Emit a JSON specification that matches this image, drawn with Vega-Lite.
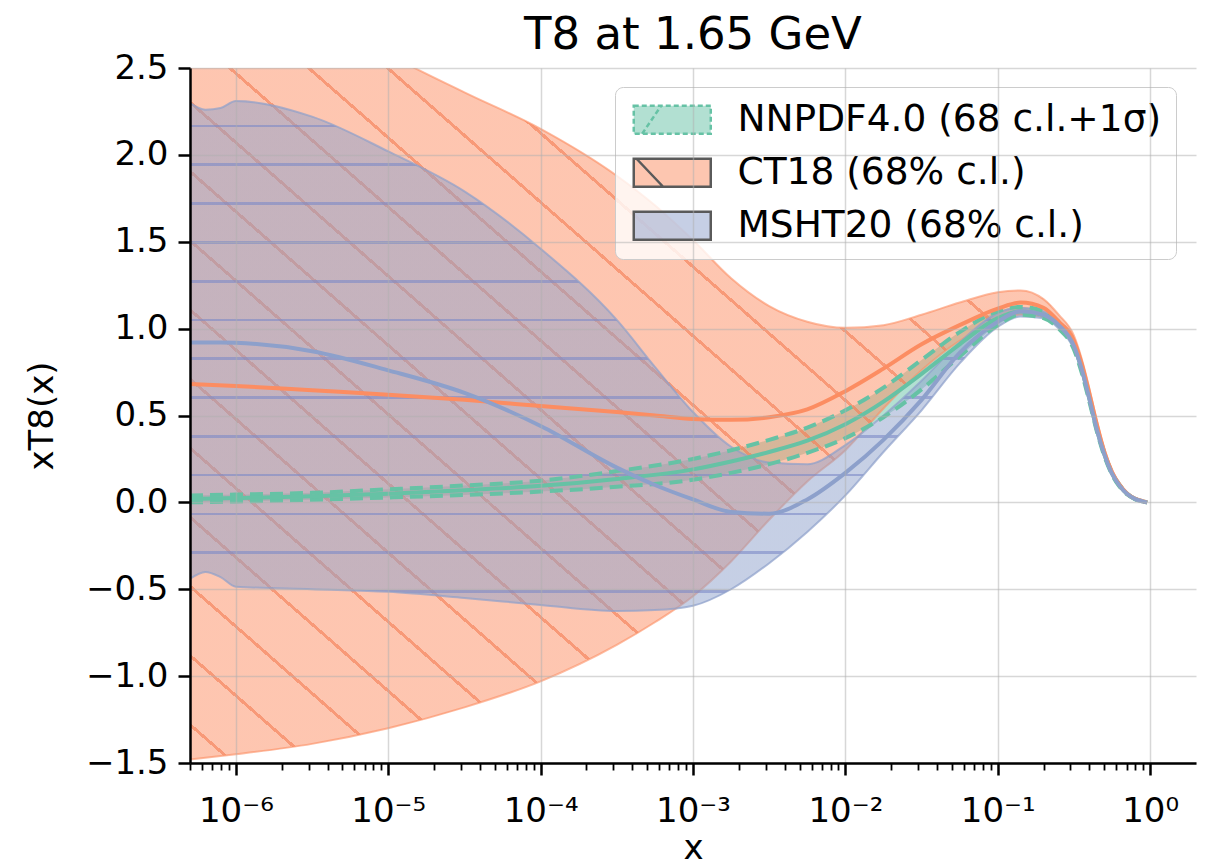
{
  "$schema": "https://vega.github.io/schema/vega-lite/v6.json",
  "width": 1006,
  "height": 695,
  "autosize": {"type": "none"},
  "padding": {"left": 190, "top": 68, "right": 14, "bottom": 103},
  "background": "white",
  "title": {"text": "T8 at 1.65 GeV", "fontSize": 45, "fontWeight": "normal", "font": "DejaVu Sans", "color": "black", "frame": "group", "offset": -7},
  "config": {
    "view": {"stroke": null},
    "font": "DejaVu Sans",
    "axis": {"labelFont": "DejaVu Sans", "titleFont": "DejaVu Sans", "labelColor": "black", "titleColor": "black", "titleFontWeight": "normal", "domainColor": "black", "tickColor": "black", "domainWidth": 2.5, "gridColor": "#b0b0b0", "gridWidth": 1.5, "zindex": 2, "labelOverlap": false, "labelBound": false, "labelFlush": false}
  },
  "datasets": {
    "pdf": [
      {"pdf": "NNPDF4.0 (68 c.l.+1σ)", "x": 5e-7, "c": 0.02, "lo": 0.0, "hi": 0.04},
      {"pdf": "NNPDF4.0 (68 c.l.+1σ)", "x": 1e-6, "c": 0.025, "lo": 0.005, "hi": 0.045},
      {"pdf": "NNPDF4.0 (68 c.l.+1σ)", "x": 3.162e-6, "c": 0.035, "lo": 0.015, "hi": 0.055},
      {"pdf": "NNPDF4.0 (68 c.l.+1σ)", "x": 1e-5, "c": 0.05, "lo": 0.028, "hi": 0.075},
      {"pdf": "NNPDF4.0 (68 c.l.+1σ)", "x": 3.162e-5, "c": 0.07, "lo": 0.043, "hi": 0.097},
      {"pdf": "NNPDF4.0 (68 c.l.+1σ)", "x": 1e-4, "c": 0.095, "lo": 0.062, "hi": 0.125},
      {"pdf": "NNPDF4.0 (68 c.l.+1σ)", "x": 3.162e-4, "c": 0.135, "lo": 0.09, "hi": 0.18},
      {"pdf": "NNPDF4.0 (68 c.l.+1σ)", "x": 1e-3, "c": 0.19, "lo": 0.13, "hi": 0.25},
      {"pdf": "NNPDF4.0 (68 c.l.+1σ)", "x": 1.778e-3, "c": 0.235, "lo": 0.17, "hi": 0.30},
      {"pdf": "NNPDF4.0 (68 c.l.+1σ)", "x": 3.162e-3, "c": 0.29, "lo": 0.22, "hi": 0.36},
      {"pdf": "NNPDF4.0 (68 c.l.+1σ)", "x": 5.623e-3, "c": 0.355, "lo": 0.285, "hi": 0.43},
      {"pdf": "NNPDF4.0 (68 c.l.+1σ)", "x": 0.01, "c": 0.45, "lo": 0.37, "hi": 0.53},
      {"pdf": "NNPDF4.0 (68 c.l.+1σ)", "x": 0.01778, "c": 0.58, "lo": 0.49, "hi": 0.66},
      {"pdf": "NNPDF4.0 (68 c.l.+1σ)", "x": 0.03162, "c": 0.74, "lo": 0.65, "hi": 0.82},
      {"pdf": "NNPDF4.0 (68 c.l.+1σ)", "x": 0.05623, "c": 0.91, "lo": 0.84, "hi": 0.98},
      {"pdf": "NNPDF4.0 (68 c.l.+1σ)", "x": 0.1, "c": 1.06, "lo": 1.02, "hi": 1.10},
      {"pdf": "NNPDF4.0 (68 c.l.+1σ)", "x": 0.1413, "c": 1.10, "lo": 1.08, "hi": 1.125},
      {"pdf": "NNPDF4.0 (68 c.l.+1σ)", "x": 0.1995, "c": 1.08, "lo": 1.06, "hi": 1.10},
      {"pdf": "NNPDF4.0 (68 c.l.+1σ)", "x": 0.2512, "c": 1.02, "lo": 1.0, "hi": 1.04},
      {"pdf": "NNPDF4.0 (68 c.l.+1σ)", "x": 0.3162, "c": 0.90, "lo": 0.88, "hi": 0.92},
      {"pdf": "NNPDF4.0 (68 c.l.+1σ)", "x": 0.3548, "c": 0.77, "lo": 0.75, "hi": 0.79},
      {"pdf": "NNPDF4.0 (68 c.l.+1σ)", "x": 0.3981, "c": 0.60, "lo": 0.585, "hi": 0.615},
      {"pdf": "NNPDF4.0 (68 c.l.+1σ)", "x": 0.4467, "c": 0.42, "lo": 0.41, "hi": 0.43},
      {"pdf": "NNPDF4.0 (68 c.l.+1σ)", "x": 0.5012, "c": 0.275, "lo": 0.265, "hi": 0.285},
      {"pdf": "NNPDF4.0 (68 c.l.+1σ)", "x": 0.5623, "c": 0.165, "lo": 0.16, "hi": 0.17},
      {"pdf": "NNPDF4.0 (68 c.l.+1σ)", "x": 0.631, "c": 0.095, "lo": 0.09, "hi": 0.10},
      {"pdf": "NNPDF4.0 (68 c.l.+1σ)", "x": 0.7079, "c": 0.048, "lo": 0.045, "hi": 0.05},
      {"pdf": "NNPDF4.0 (68 c.l.+1σ)", "x": 0.7943, "c": 0.02, "lo": 0.019, "hi": 0.021},
      {"pdf": "NNPDF4.0 (68 c.l.+1σ)", "x": 0.8913, "c": 0.006, "lo": 0.005, "hi": 0.007},
      {"pdf": "NNPDF4.0 (68 c.l.+1σ)", "x": 0.955, "c": 0.0, "lo": 0.0, "hi": 0.0},

      {"pdf": "CT18 (68% c.l.)", "x": 5e-7, "c": 0.682, "lo": -1.48, "hi": 3.35},
      {"pdf": "CT18 (68% c.l.)", "x": 1e-6, "c": 0.67, "lo": -1.45, "hi": 3.15},
      {"pdf": "CT18 (68% c.l.)", "x": 3.162e-6, "c": 0.645, "lo": -1.39, "hi": 2.85},
      {"pdf": "CT18 (68% c.l.)", "x": 1e-5, "c": 0.62, "lo": -1.30, "hi": 2.58},
      {"pdf": "CT18 (68% c.l.)", "x": 3.162e-5, "c": 0.59, "lo": -1.18, "hi": 2.36},
      {"pdf": "CT18 (68% c.l.)", "x": 1e-4, "c": 0.555, "lo": -1.03, "hi": 2.15},
      {"pdf": "CT18 (68% c.l.)", "x": 3.162e-4, "c": 0.52, "lo": -0.82, "hi": 1.88},
      {"pdf": "CT18 (68% c.l.)", "x": 5.623e-4, "c": 0.50, "lo": -0.69, "hi": 1.71},
      {"pdf": "CT18 (68% c.l.)", "x": 1e-3, "c": 0.48, "lo": -0.54, "hi": 1.51},
      {"pdf": "CT18 (68% c.l.)", "x": 1.778e-3, "c": 0.475, "lo": -0.34, "hi": 1.29},
      {"pdf": "CT18 (68% c.l.)", "x": 3.162e-3, "c": 0.49, "lo": -0.10, "hi": 1.13},
      {"pdf": "CT18 (68% c.l.)", "x": 5.623e-3, "c": 0.535, "lo": 0.12, "hi": 1.04},
      {"pdf": "CT18 (68% c.l.)", "x": 0.01, "c": 0.64, "lo": 0.30, "hi": 1.005},
      {"pdf": "CT18 (68% c.l.)", "x": 0.01778, "c": 0.77, "lo": 0.54, "hi": 1.02},
      {"pdf": "CT18 (68% c.l.)", "x": 0.03162, "c": 0.91, "lo": 0.76, "hi": 1.08},
      {"pdf": "CT18 (68% c.l.)", "x": 0.05623, "c": 1.02, "lo": 0.93, "hi": 1.15},
      {"pdf": "CT18 (68% c.l.)", "x": 0.1, "c": 1.115, "lo": 1.04, "hi": 1.21},
      {"pdf": "CT18 (68% c.l.)", "x": 0.1413, "c": 1.15, "lo": 1.08, "hi": 1.22},
      {"pdf": "CT18 (68% c.l.)", "x": 0.1995, "c": 1.12, "lo": 1.07, "hi": 1.17},
      {"pdf": "CT18 (68% c.l.)", "x": 0.2512, "c": 1.04, "lo": 1.01, "hi": 1.08},
      {"pdf": "CT18 (68% c.l.)", "x": 0.3162, "c": 0.93, "lo": 0.90, "hi": 0.96},
      {"pdf": "CT18 (68% c.l.)", "x": 0.3548, "c": 0.80, "lo": 0.77, "hi": 0.83},
      {"pdf": "CT18 (68% c.l.)", "x": 0.3981, "c": 0.63, "lo": 0.60, "hi": 0.66},
      {"pdf": "CT18 (68% c.l.)", "x": 0.4467, "c": 0.45, "lo": 0.43, "hi": 0.47},
      {"pdf": "CT18 (68% c.l.)", "x": 0.5012, "c": 0.29, "lo": 0.275, "hi": 0.305},
      {"pdf": "CT18 (68% c.l.)", "x": 0.5623, "c": 0.175, "lo": 0.165, "hi": 0.185},
      {"pdf": "CT18 (68% c.l.)", "x": 0.631, "c": 0.10, "lo": 0.095, "hi": 0.107},
      {"pdf": "CT18 (68% c.l.)", "x": 0.7079, "c": 0.05, "lo": 0.047, "hi": 0.054},
      {"pdf": "CT18 (68% c.l.)", "x": 0.7943, "c": 0.022, "lo": 0.02, "hi": 0.024},
      {"pdf": "CT18 (68% c.l.)", "x": 0.8913, "c": 0.007, "lo": 0.006, "hi": 0.008},
      {"pdf": "CT18 (68% c.l.)", "x": 0.955, "c": 0.0, "lo": 0.0, "hi": 0.0},

      {"pdf": "MSHT20 (68% c.l.)", "x": 5e-7, "c": 0.92, "lo": -0.44, "hi": 2.30},
      {"pdf": "MSHT20 (68% c.l.)", "x": 6.31e-7, "c": 0.92, "lo": -0.40, "hi": 2.26},
      {"pdf": "MSHT20 (68% c.l.)", "x": 7.94e-7, "c": 0.92, "lo": -0.43, "hi": 2.27},
      {"pdf": "MSHT20 (68% c.l.)", "x": 1e-6, "c": 0.918, "lo": -0.485, "hi": 2.31},
      {"pdf": "MSHT20 (68% c.l.)", "x": 3.162e-6, "c": 0.87, "lo": -0.50, "hi": 2.22},
      {"pdf": "MSHT20 (68% c.l.)", "x": 1e-5, "c": 0.76, "lo": -0.515, "hi": 2.02},
      {"pdf": "MSHT20 (68% c.l.)", "x": 3.162e-5, "c": 0.63, "lo": -0.55, "hi": 1.79},
      {"pdf": "MSHT20 (68% c.l.)", "x": 1e-4, "c": 0.44, "lo": -0.59, "hi": 1.46},
      {"pdf": "MSHT20 (68% c.l.)", "x": 3.162e-4, "c": 0.20, "lo": -0.625, "hi": 1.05},
      {"pdf": "MSHT20 (68% c.l.)", "x": 5.623e-4, "c": 0.10, "lo": -0.62, "hi": 0.78},
      {"pdf": "MSHT20 (68% c.l.)", "x": 1e-3, "c": 0.017, "lo": -0.595, "hi": 0.52},
      {"pdf": "MSHT20 (68% c.l.)", "x": 1.778e-3, "c": -0.055, "lo": -0.50, "hi": 0.32},
      {"pdf": "MSHT20 (68% c.l.)", "x": 3.162e-3, "c": -0.065, "lo": -0.35, "hi": 0.23},
      {"pdf": "MSHT20 (68% c.l.)", "x": 5.623e-3, "c": 0.017, "lo": -0.17, "hi": 0.22},
      {"pdf": "MSHT20 (68% c.l.)", "x": 0.01, "c": 0.17, "lo": 0.04, "hi": 0.33},
      {"pdf": "MSHT20 (68% c.l.)", "x": 0.01778, "c": 0.36, "lo": 0.29, "hi": 0.50},
      {"pdf": "MSHT20 (68% c.l.)", "x": 0.03162, "c": 0.59, "lo": 0.53, "hi": 0.70},
      {"pdf": "MSHT20 (68% c.l.)", "x": 0.05623, "c": 0.86, "lo": 0.80, "hi": 0.92},
      {"pdf": "MSHT20 (68% c.l.)", "x": 0.1, "c": 1.04, "lo": 1.01, "hi": 1.09},
      {"pdf": "MSHT20 (68% c.l.)", "x": 0.1413, "c": 1.10, "lo": 1.07, "hi": 1.12},
      {"pdf": "MSHT20 (68% c.l.)", "x": 0.1995, "c": 1.08, "lo": 1.06, "hi": 1.10},
      {"pdf": "MSHT20 (68% c.l.)", "x": 0.2512, "c": 1.02, "lo": 1.0, "hi": 1.04},
      {"pdf": "MSHT20 (68% c.l.)", "x": 0.3162, "c": 0.90, "lo": 0.88, "hi": 0.92},
      {"pdf": "MSHT20 (68% c.l.)", "x": 0.3548, "c": 0.77, "lo": 0.75, "hi": 0.79},
      {"pdf": "MSHT20 (68% c.l.)", "x": 0.3981, "c": 0.60, "lo": 0.585, "hi": 0.615},
      {"pdf": "MSHT20 (68% c.l.)", "x": 0.4467, "c": 0.42, "lo": 0.41, "hi": 0.43},
      {"pdf": "MSHT20 (68% c.l.)", "x": 0.5012, "c": 0.275, "lo": 0.265, "hi": 0.285},
      {"pdf": "MSHT20 (68% c.l.)", "x": 0.5623, "c": 0.165, "lo": 0.16, "hi": 0.17},
      {"pdf": "MSHT20 (68% c.l.)", "x": 0.631, "c": 0.095, "lo": 0.09, "hi": 0.10},
      {"pdf": "MSHT20 (68% c.l.)", "x": 0.7079, "c": 0.048, "lo": 0.045, "hi": 0.05},
      {"pdf": "MSHT20 (68% c.l.)", "x": 0.7943, "c": 0.02, "lo": 0.019, "hi": 0.021},
      {"pdf": "MSHT20 (68% c.l.)", "x": 0.8913, "c": 0.006, "lo": 0.005, "hi": 0.007},
      {"pdf": "MSHT20 (68% c.l.)", "x": 0.955, "c": 0.0, "lo": 0.0, "hi": 0.0}
    ]
  },
  "data": {"name": "pdf"},
  "encoding": {
    "x": {"field": "x", "type": "quantitative",
      "scale": {"type": "log", "domain": [5e-7, 2], "nice": false},
      "axis": {
        "title": "x", "titleFontSize": 34, "titlePadding": 3, "zindex": 2,
        "values": [5e-7, 6e-7, 7e-7, 8e-7, 9e-7, 1e-6, 2e-6, 3e-6, 4e-6, 5e-6, 6e-6, 7e-6, 8e-6, 9e-6, 1e-5, 2e-5, 3e-5, 4e-5, 5e-5, 6e-5, 7e-5, 8e-5, 9e-5, 1e-4, 2e-4, 3e-4, 4e-4, 5e-4, 6e-4, 7e-4, 8e-4, 9e-4, 1e-3, 2e-3, 3e-3, 4e-3, 5e-3, 6e-3, 7e-3, 8e-3, 9e-3, 0.01, 0.02, 0.03, 0.04, 0.05, 0.06, 0.07, 0.08, 0.09, 0.1, 0.2, 0.3, 0.4, 0.5, 0.6, 0.7, 0.8, 0.9, 1],
        "labelExpr": "abs(log(datum.value)/LN10 - round(log(datum.value)/LN10)) < 0.001 ? ['10⁻⁶','10⁻⁵','10⁻⁴','10⁻³','10⁻²','10⁻¹','10⁰'][round(log(datum.value)/LN10)+6] : ''",
        "labelFontSize": 34, "labelPadding": 19,
        "tickSize": {"condition": {"test": "abs(log(datum.value)/LN10 - round(log(datum.value)/LN10)) < 0.001", "value": 12}, "value": 7},
        "tickWidth": {"condition": {"test": "abs(log(datum.value)/LN10 - round(log(datum.value)/LN10)) < 0.001", "value": 2.5}, "value": 1.8},
        "gridOpacity": {"condition": {"test": "abs(log(datum.value)/LN10 - round(log(datum.value)/LN10)) < 0.001", "value": 0.5}, "value": 0}
      }
    }
  },
  "layer": [
    {
      "transform": [{"filter": "datum.pdf === 'NNPDF4.0 (68 c.l.+1σ)'"}],
      "mark": {"type": "area", "interpolate": "monotone", "fillOpacity": 0.5},
      "encoding": {
        "y": {"field": "lo", "type": "quantitative",
          "scale": {"domain": [-1.5, 2.5], "nice": false, "zero": false},
          "axis": {"title": "xT8(x)", "titleFontSize": 34, "titlePadding": 26, "zindex": 2, "values": [-1.5, -1, -0.5, 0, 0.5, 1, 1.5, 2, 2.5], "format": ".1f", "labelFontSize": 34, "labelPadding": 10, "tickSize": 12, "tickWidth": 2.5, "gridOpacity": 0.5}
        },
        "y2": {"field": "hi"},
        "fill": {"field": "pdf", "type": "nominal",
          "scale": {"domain": ["NNPDF4.0 (68 c.l.+1σ)", "CT18 (68% c.l.)", "MSHT20 (68% c.l.)"], "range": ["#66c2a5", "#fc8d62", "#8da0cb"]},
          "legend": {
            "title": null, "orient": "none", "legendX": 425, "legendY": 19,
            "symbolType": "M-1,-1H4.5V1H-1Z", "symbolSize": 784,
            "symbolStrokeColor": "#5a5a5a", "symbolStrokeWidth": 2.5,
            "labelFont": "DejaVu Sans", "labelFontSize": 37.5, "labelColor": "black", "labelLimit": 0,
            "labelOffset": 71, "rowPadding": 14, "padding": 14,
            "fillColor": "rgba(255,255,255,0.8)", "strokeColor": "#cccccc", "cornerRadius": 8,
            "encode": {"symbols": {"update": {
              "fillOpacity": {"value": 0.5},
              "stroke": {"signal": "datum.value === 'NNPDF4.0 (68 c.l.+1σ)' ? '#66c2a5' : '#5a5a5a'"},
              "strokeDash": {"signal": "datum.value === 'NNPDF4.0 (68 c.l.+1σ)' ? [5, 3] : []"},
              "shape": {"signal": "datum.value === 'CT18 (68% c.l.)' ? 'M-1,-1H4.5V1H-1Z M-0.8,-1L1.1,1' : datum.value === 'NNPDF4.0 (68 c.l.+1σ)' ? 'M-1,-1H4.5V1H-1Z M-0.4,1L0.96,-1' : 'M-1,-1H4.5V1H-1Z'"}
            }}}
          }
        }
      }
    },
    {
      "transform": [{"filter": "datum.pdf === 'CT18 (68% c.l.)'"}],
      "mark": {"type": "area", "interpolate": "monotone", "clip": true, "stroke": "#fc8d62", "strokeOpacity": 0.6, "strokeWidth": 2,
        "fill": {"gradient": "linear", "x1": 1, "y1": 0, "x2": 0, "y2": 1, "stops": [
          {"offset": 0, "color": "rgba(252,141,98,0.5)"},
          {"offset": 0.0304, "color": "rgba(252,141,98,0.5)"}, {"offset": 0.0304, "color": "rgba(246,128,86,0.8)"}, {"offset": 0.0328, "color": "rgba(246,128,86,0.8)"}, {"offset": 0.0328, "color": "rgba(252,141,98,0.5)"},
          {"offset": 0.0716, "color": "rgba(252,141,98,0.5)"}, {"offset": 0.0716, "color": "rgba(246,128,86,0.8)"}, {"offset": 0.0740, "color": "rgba(246,128,86,0.8)"}, {"offset": 0.0740, "color": "rgba(252,141,98,0.5)"},
          {"offset": 0.1128, "color": "rgba(252,141,98,0.5)"}, {"offset": 0.1128, "color": "rgba(246,128,86,0.8)"}, {"offset": 0.1152, "color": "rgba(246,128,86,0.8)"}, {"offset": 0.1152, "color": "rgba(252,141,98,0.5)"},
          {"offset": 0.1540, "color": "rgba(252,141,98,0.5)"}, {"offset": 0.1540, "color": "rgba(246,128,86,0.8)"}, {"offset": 0.1564, "color": "rgba(246,128,86,0.8)"}, {"offset": 0.1564, "color": "rgba(252,141,98,0.5)"},
          {"offset": 0.1952, "color": "rgba(252,141,98,0.5)"}, {"offset": 0.1952, "color": "rgba(246,128,86,0.8)"}, {"offset": 0.1976, "color": "rgba(246,128,86,0.8)"}, {"offset": 0.1976, "color": "rgba(252,141,98,0.5)"},
          {"offset": 0.2364, "color": "rgba(252,141,98,0.5)"}, {"offset": 0.2364, "color": "rgba(246,128,86,0.8)"}, {"offset": 0.2388, "color": "rgba(246,128,86,0.8)"}, {"offset": 0.2388, "color": "rgba(252,141,98,0.5)"},
          {"offset": 0.2776, "color": "rgba(252,141,98,0.5)"}, {"offset": 0.2776, "color": "rgba(246,128,86,0.8)"}, {"offset": 0.2800, "color": "rgba(246,128,86,0.8)"}, {"offset": 0.2800, "color": "rgba(252,141,98,0.5)"},
          {"offset": 0.3188, "color": "rgba(252,141,98,0.5)"}, {"offset": 0.3188, "color": "rgba(246,128,86,0.8)"}, {"offset": 0.3212, "color": "rgba(246,128,86,0.8)"}, {"offset": 0.3212, "color": "rgba(252,141,98,0.5)"},
          {"offset": 0.3600, "color": "rgba(252,141,98,0.5)"}, {"offset": 0.3600, "color": "rgba(246,128,86,0.8)"}, {"offset": 0.3624, "color": "rgba(246,128,86,0.8)"}, {"offset": 0.3624, "color": "rgba(252,141,98,0.5)"},
          {"offset": 0.4012, "color": "rgba(252,141,98,0.5)"}, {"offset": 0.4012, "color": "rgba(246,128,86,0.8)"}, {"offset": 0.4036, "color": "rgba(246,128,86,0.8)"}, {"offset": 0.4036, "color": "rgba(252,141,98,0.5)"},
          {"offset": 0.4424, "color": "rgba(252,141,98,0.5)"}, {"offset": 0.4424, "color": "rgba(246,128,86,0.8)"}, {"offset": 0.4448, "color": "rgba(246,128,86,0.8)"}, {"offset": 0.4448, "color": "rgba(252,141,98,0.5)"},
          {"offset": 0.4836, "color": "rgba(252,141,98,0.5)"}, {"offset": 0.4836, "color": "rgba(246,128,86,0.8)"}, {"offset": 0.4860, "color": "rgba(246,128,86,0.8)"}, {"offset": 0.4860, "color": "rgba(252,141,98,0.5)"},
          {"offset": 0.5248, "color": "rgba(252,141,98,0.5)"}, {"offset": 0.5248, "color": "rgba(246,128,86,0.8)"}, {"offset": 0.5272, "color": "rgba(246,128,86,0.8)"}, {"offset": 0.5272, "color": "rgba(252,141,98,0.5)"},
          {"offset": 0.5660, "color": "rgba(252,141,98,0.5)"}, {"offset": 0.5660, "color": "rgba(246,128,86,0.8)"}, {"offset": 0.5684, "color": "rgba(246,128,86,0.8)"}, {"offset": 0.5684, "color": "rgba(252,141,98,0.5)"},
          {"offset": 0.6072, "color": "rgba(252,141,98,0.5)"}, {"offset": 0.6072, "color": "rgba(246,128,86,0.8)"}, {"offset": 0.6096, "color": "rgba(246,128,86,0.8)"}, {"offset": 0.6096, "color": "rgba(252,141,98,0.5)"},
          {"offset": 0.6484, "color": "rgba(252,141,98,0.5)"}, {"offset": 0.6484, "color": "rgba(246,128,86,0.8)"}, {"offset": 0.6508, "color": "rgba(246,128,86,0.8)"}, {"offset": 0.6508, "color": "rgba(252,141,98,0.5)"},
          {"offset": 0.6896, "color": "rgba(252,141,98,0.5)"}, {"offset": 0.6896, "color": "rgba(246,128,86,0.8)"}, {"offset": 0.6920, "color": "rgba(246,128,86,0.8)"}, {"offset": 0.6920, "color": "rgba(252,141,98,0.5)"},
          {"offset": 0.7308, "color": "rgba(252,141,98,0.5)"}, {"offset": 0.7308, "color": "rgba(246,128,86,0.8)"}, {"offset": 0.7332, "color": "rgba(246,128,86,0.8)"}, {"offset": 0.7332, "color": "rgba(252,141,98,0.5)"},
          {"offset": 0.7720, "color": "rgba(252,141,98,0.5)"}, {"offset": 0.7720, "color": "rgba(246,128,86,0.8)"}, {"offset": 0.7744, "color": "rgba(246,128,86,0.8)"}, {"offset": 0.7744, "color": "rgba(252,141,98,0.5)"},
          {"offset": 0.8132, "color": "rgba(252,141,98,0.5)"}, {"offset": 0.8132, "color": "rgba(246,128,86,0.8)"}, {"offset": 0.8156, "color": "rgba(246,128,86,0.8)"}, {"offset": 0.8156, "color": "rgba(252,141,98,0.5)"},
          {"offset": 0.8544, "color": "rgba(252,141,98,0.5)"}, {"offset": 0.8544, "color": "rgba(246,128,86,0.8)"}, {"offset": 0.8568, "color": "rgba(246,128,86,0.8)"}, {"offset": 0.8568, "color": "rgba(252,141,98,0.5)"},
          {"offset": 0.8956, "color": "rgba(252,141,98,0.5)"}, {"offset": 0.8956, "color": "rgba(246,128,86,0.8)"}, {"offset": 0.8980, "color": "rgba(246,128,86,0.8)"}, {"offset": 0.8980, "color": "rgba(252,141,98,0.5)"},
          {"offset": 0.9368, "color": "rgba(252,141,98,0.5)"}, {"offset": 0.9368, "color": "rgba(246,128,86,0.8)"}, {"offset": 0.9392, "color": "rgba(246,128,86,0.8)"}, {"offset": 0.9392, "color": "rgba(252,141,98,0.5)"},
          {"offset": 0.9780, "color": "rgba(252,141,98,0.5)"}, {"offset": 0.9780, "color": "rgba(246,128,86,0.8)"}, {"offset": 0.9804, "color": "rgba(246,128,86,0.8)"}, {"offset": 0.9804, "color": "rgba(252,141,98,0.5)"},
          {"offset": 1, "color": "rgba(252,141,98,0.5)"}
        ]}
      },
      "encoding": {"y": {"field": "lo", "type": "quantitative"}, "y2": {"field": "hi"}}
    },
    {
      "transform": [{"filter": "datum.pdf === 'MSHT20 (68% c.l.)'"}],
      "mark": {"type": "area", "interpolate": "monotone", "clip": true, "stroke": "#8da0cb", "strokeOpacity": 0.7, "strokeWidth": 2,
        "fill": {"gradient": "linear", "x1": 0, "y1": 0, "x2": 0, "y2": 1, "stops": [
          {"offset": 0, "color": "rgba(141,160,203,0.5)"},
          {"offset": 0.0464, "color": "rgba(141,160,203,0.5)"}, {"offset": 0.0464, "color": "rgba(128,143,200,0.8)"}, {"offset": 0.0516, "color": "rgba(128,143,200,0.8)"}, {"offset": 0.0516, "color": "rgba(141,160,203,0.5)"},
          {"offset": 0.1225, "color": "rgba(141,160,203,0.5)"}, {"offset": 0.1225, "color": "rgba(128,143,200,0.8)"}, {"offset": 0.1277, "color": "rgba(128,143,200,0.8)"}, {"offset": 0.1277, "color": "rgba(141,160,203,0.5)"},
          {"offset": 0.1986, "color": "rgba(141,160,203,0.5)"}, {"offset": 0.1986, "color": "rgba(128,143,200,0.8)"}, {"offset": 0.2038, "color": "rgba(128,143,200,0.8)"}, {"offset": 0.2038, "color": "rgba(141,160,203,0.5)"},
          {"offset": 0.2747, "color": "rgba(141,160,203,0.5)"}, {"offset": 0.2747, "color": "rgba(128,143,200,0.8)"}, {"offset": 0.2799, "color": "rgba(128,143,200,0.8)"}, {"offset": 0.2799, "color": "rgba(141,160,203,0.5)"},
          {"offset": 0.3507, "color": "rgba(141,160,203,0.5)"}, {"offset": 0.3507, "color": "rgba(128,143,200,0.8)"}, {"offset": 0.3559, "color": "rgba(128,143,200,0.8)"}, {"offset": 0.3559, "color": "rgba(141,160,203,0.5)"},
          {"offset": 0.4268, "color": "rgba(141,160,203,0.5)"}, {"offset": 0.4268, "color": "rgba(128,143,200,0.8)"}, {"offset": 0.4320, "color": "rgba(128,143,200,0.8)"}, {"offset": 0.4320, "color": "rgba(141,160,203,0.5)"},
          {"offset": 0.5029, "color": "rgba(141,160,203,0.5)"}, {"offset": 0.5029, "color": "rgba(128,143,200,0.8)"}, {"offset": 0.5081, "color": "rgba(128,143,200,0.8)"}, {"offset": 0.5081, "color": "rgba(141,160,203,0.5)"},
          {"offset": 0.5790, "color": "rgba(141,160,203,0.5)"}, {"offset": 0.5790, "color": "rgba(128,143,200,0.8)"}, {"offset": 0.5842, "color": "rgba(128,143,200,0.8)"}, {"offset": 0.5842, "color": "rgba(141,160,203,0.5)"},
          {"offset": 0.6550, "color": "rgba(141,160,203,0.5)"}, {"offset": 0.6550, "color": "rgba(128,143,200,0.8)"}, {"offset": 0.6602, "color": "rgba(128,143,200,0.8)"}, {"offset": 0.6602, "color": "rgba(141,160,203,0.5)"},
          {"offset": 0.7311, "color": "rgba(141,160,203,0.5)"}, {"offset": 0.7311, "color": "rgba(128,143,200,0.8)"}, {"offset": 0.7363, "color": "rgba(128,143,200,0.8)"}, {"offset": 0.7363, "color": "rgba(141,160,203,0.5)"},
          {"offset": 0.8072, "color": "rgba(141,160,203,0.5)"}, {"offset": 0.8072, "color": "rgba(128,143,200,0.8)"}, {"offset": 0.8124, "color": "rgba(128,143,200,0.8)"}, {"offset": 0.8124, "color": "rgba(141,160,203,0.5)"},
          {"offset": 0.8833, "color": "rgba(141,160,203,0.5)"}, {"offset": 0.8833, "color": "rgba(128,143,200,0.8)"}, {"offset": 0.8885, "color": "rgba(128,143,200,0.8)"}, {"offset": 0.8885, "color": "rgba(141,160,203,0.5)"},
          {"offset": 0.9594, "color": "rgba(141,160,203,0.5)"}, {"offset": 0.9594, "color": "rgba(128,143,200,0.8)"}, {"offset": 0.9646, "color": "rgba(128,143,200,0.8)"}, {"offset": 0.9646, "color": "rgba(141,160,203,0.5)"},
          {"offset": 1, "color": "rgba(141,160,203,0.5)"}
        ]}
      },
      "encoding": {"y": {"field": "lo", "type": "quantitative"}, "y2": {"field": "hi"}}
    },
    {
      "transform": [{"filter": "datum.pdf === 'NNPDF4.0 (68 c.l.+1σ)'"}, {"fold": ["lo", "hi"], "as": ["bound", "yv"]}],
      "mark": {"type": "line", "interpolate": "monotone", "color": "#66c2a5", "strokeWidth": 4, "strokeDash": [13, 7]},
      "encoding": {"y": {"field": "yv", "type": "quantitative"}, "detail": {"field": "bound"}}
    },
    {
      "transform": [{"filter": "datum.pdf === 'NNPDF4.0 (68 c.l.+1σ)'"}],
      "mark": {"type": "line", "interpolate": "monotone", "color": "#66c2a5", "strokeWidth": 4},
      "encoding": {"y": {"field": "c", "type": "quantitative"}}
    },
    {
      "transform": [{"filter": "datum.pdf === 'CT18 (68% c.l.)'"}],
      "mark": {"type": "line", "interpolate": "monotone", "color": "#fc8d62", "strokeWidth": 4, "clip": true},
      "encoding": {"y": {"field": "c", "type": "quantitative"}}
    },
    {
      "transform": [{"filter": "datum.pdf === 'MSHT20 (68% c.l.)'"}],
      "mark": {"type": "line", "interpolate": "monotone", "color": "#8da0cb", "strokeWidth": 4},
      "encoding": {"y": {"field": "c", "type": "quantitative"}}
    }
  ]
}
